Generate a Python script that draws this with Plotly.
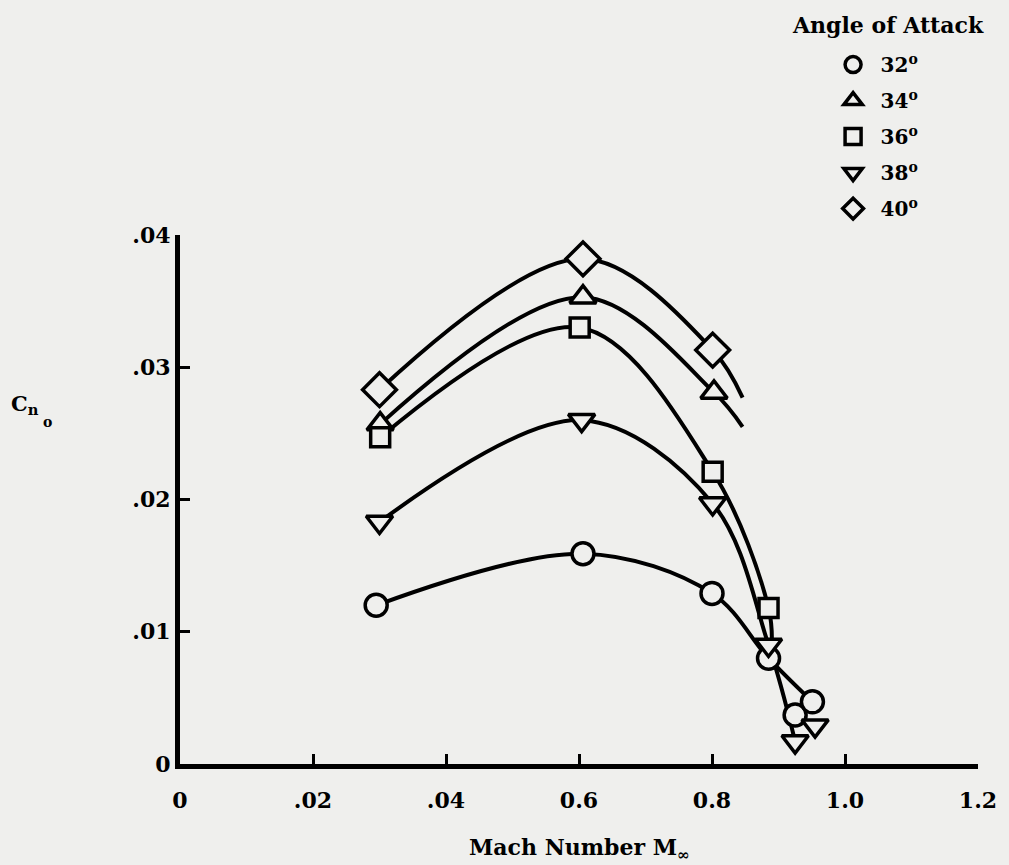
import plotly.graph_objects as go

# ---- data ----
angles = ["32", "34", "36", "38", "40"]
symbols = ["circle", "triangle-up", "square", "triangle-down", "diamond"]

# measured points (markers)
mach_32 = [0.295, 0.606, 0.800, 0.885, 0.925, 0.951]
cn_32 = [0.0120, 0.0159, 0.0129, 0.0080, 0.0037, 0.0047]
mach_34 = [0.301, 0.606, 0.803]
cn_34 = [0.0257, 0.0353, 0.0281]
mach_36 = [0.301, 0.601, 0.801, 0.885]
cn_36 = [0.0247, 0.0330, 0.0221, 0.0118]
mach_38 = [0.300, 0.604, 0.801, 0.885, 0.925, 0.955]
cn_38 = [0.0183, 0.0260, 0.0197, 0.0090, 0.0017, 0.0029]
mach_40 = [0.300, 0.606, 0.801]
cn_40 = [0.0283, 0.0382, 0.0313]

# faired curves through the data
curve_mach_32 = [0.295, 0.606, 0.800, 0.885, 0.951]
curve_cn_32 = [0.0120, 0.0159, 0.0129, 0.0080, 0.0047]
curve_mach_34 = [0.301, 0.606, 0.803, 0.846]
curve_cn_34 = [0.0257, 0.0353, 0.0281, 0.0255]
curve_mach_36 = [0.301, 0.601, 0.801, 0.885, 0.890]
curve_cn_36 = [0.0247, 0.0330, 0.0221, 0.0118, 0.0090]
curve_mach_38 = [0.300, 0.604, 0.801, 0.885, 0.925]
curve_cn_38 = [0.0183, 0.0260, 0.0197, 0.0090, 0.0017]
curve_mach_40 = [0.300, 0.606, 0.801, 0.846]
curve_cn_40 = [0.0283, 0.0382, 0.0313, 0.0277]

x_tickvals = [0, 0.2, 0.4, 0.6, 0.8, 1.0, 1.2]
x_ticktext = ["0", ".02", ".04", "0.6", "0.8", "1.0", "1.2"]
y_tickvals = [0, 0.01, 0.02, 0.03, 0.04]
y_ticktext = ["0", ".01", ".02", ".03", ".04"]

BG = "#efefed"
FONT = "DejaVu Serif"

marks = [(mach_32, cn_32), (mach_34, cn_34), (mach_36, cn_36), (mach_38, cn_38), (mach_40, cn_40)]
curves = [(curve_mach_32, curve_cn_32), (curve_mach_34, curve_cn_34), (curve_mach_36, curve_cn_36),
          (curve_mach_38, curve_cn_38), (curve_mach_40, curve_cn_40)]
sizes = [22, 23, 19, 23, 26]

fig = go.Figure()
for (cx, cy) in curves:
    fig.add_trace(go.Scatter(x=cx, y=cy, mode="lines", showlegend=False,
                             line=dict(color="black", width=4, shape="spline", smoothing=1.0),
                             hoverinfo="skip"))
for i, (mx, my) in enumerate(marks):
    fig.add_trace(go.Scatter(
        x=mx, y=my, mode="markers", name=angles[i] + "<sup>o</sup>",
        legendgroup="g" + angles[i],
        marker=dict(symbol=symbols[i], size=sizes[i], color=BG,
                    line=dict(color="black", width=3.5)),
    ))

fig.update_layout(
    width=1009, height=865,
    paper_bgcolor=BG, plot_bgcolor=BG,
    margin=dict(l=180, r=25, t=235, b=101),
    font=dict(family=FONT, color="black", size=20, weight="bold"),
    showlegend=True,
    legend=dict(
        x=0.809, y=1.359, xanchor="left", yanchor="top",
        bgcolor="rgba(0,0,0,0)",
        font=dict(family=FONT, size=20, weight="bold"),
        tracegroupgap=7,
        itemwidth=45,
    ),
)
fig.update_xaxes(
    range=[0, 1.2], tickvals=x_tickvals, ticktext=x_ticktext,
    showgrid=False, zeroline=False, showline=True, linecolor="black", linewidth=5,
    ticks="inside", ticklen=10, tickwidth=3, tickcolor="black",
    ticklabelstandoff=13,
    tickfont=dict(family=FONT, size=22, weight="bold"),
)
fig.update_yaxes(
    range=[0, 0.04], tickvals=y_tickvals, ticktext=y_ticktext,
    showgrid=False, zeroline=False, showline=True, linecolor="black", linewidth=5,
    ticks="inside", ticklen=10, tickwidth=3, tickcolor="black",
    ticklabelstandoff=0,
    tickfont=dict(family=FONT, size=22, weight="bold"),
)
fig.update_traces(cliponaxis=False)

fig.add_annotation(text="Angle of Attack", xref="paper", yref="paper",
                   x=0.887, y=1.397, xanchor="center", yanchor="middle", showarrow=False,
                   font=dict(family=FONT, size=22, weight="bold"))
fig.add_annotation(text="Mach Number M<sub>∞</sub>", xref="paper", yref="paper",
                   x=0.5, y=-0.161, xanchor="center", yanchor="middle", showarrow=False,
                   font=dict(family=FONT, size=22, weight="bold"))
fig.add_annotation(text="C<sub>n</sub>", xref="paper", yref="paper",
                   x=-0.214, y=0.679, xanchor="left", yanchor="middle", showarrow=False,
                   font=dict(family=FONT, size=21, weight="bold"))
fig.add_annotation(text="o", xref="paper", yref="paper",
                   x=-0.174, y=0.646, xanchor="left", yanchor="middle", showarrow=False,
                   font=dict(family=FONT, size=14, weight="bold"))

fig.write_html("out.html", config={"displayModeBar": False},
               post_script="document.body.style.margin='0';document.body.style.background='#efefed';")
